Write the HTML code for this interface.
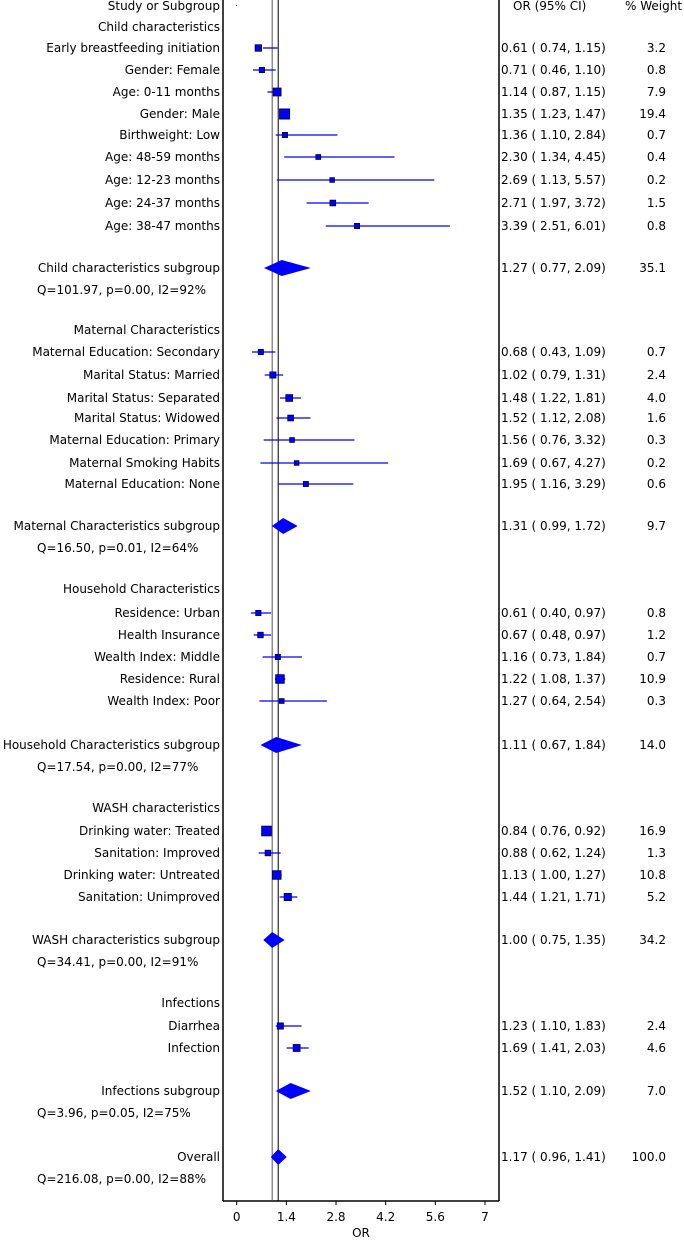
<!DOCTYPE html>
<html><head><meta charset="utf-8"><style>
html,body{margin:0;padding:0;background:#fff;}
svg{display:block;font-family:"DejaVu Sans","Liberation Sans",sans-serif;}
text{font-size:12px;fill:#000;}
</style></head><body>
<svg id="c" width="684" height="1240" viewBox="0 0 684 1240"></svg>
<script>
const labels=["Study or Subgroup","Child characteristics","Early breastfeeding initiation","Gender: Female","Age: 0-11 months","Gender:  Male","Birthweight: Low","Age: 48-59 months","Age: 12-23 months","Age: 24-37 months","Age: 38-47 months","Child characteristics subgroup","Q=101.97, p=0.00, I2=92%","Maternal Characteristics","Maternal Education: Secondary","Marital Status: Married","Marital Status: Separated","Marital Status: Widowed","Maternal Education: Primary","Maternal Smoking Habits","Maternal Education: None","Maternal Characteristics subgroup","Q=16.50, p=0.01, I2=64%","Household Characteristics","Residence: Urban","Health Insurance","Wealth Index: Middle","Residence: Rural","Wealth Index: Poor","Household Characteristics subgroup","Q=17.54, p=0.00, I2=77%","WASH characteristics","Drinking water: Treated","Sanitation: Improved","Drinking water: Untreated","Sanitation: Unimproved","WASH characteristics subgroup","Q=34.41, p=0.00, I2=91%","Infections","Diarrhea","Infection","Infections subgroup","Q=3.96, p=0.05, I2=75%","Overall","Q=216.08, p=0.00, I2=88%"];
const kinds=["head","cat","s","s","s","s","s","s","s","s","s","sub","q","cat","s","s","s","s","s","s","s","sub","q","cat","s","s","s","s","s","sub","q","cat","s","s","s","s","sub","q","cat","s","s","sub","q","sub","q"];
const est=[null,null,0.61,0.71,1.14,1.35,1.36,2.30,2.69,2.71,3.39,1.27,null,null,0.68,1.02,1.48,1.52,1.56,1.69,1.95,1.31,null,null,0.61,0.67,1.16,1.22,1.27,1.11,null,null,0.84,0.88,1.13,1.44,1.00,null,null,1.23,1.69,1.52,null,1.17,null];
const lo=[null,null,0.74,0.46,0.87,1.23,1.10,1.34,1.13,1.97,2.51,0.77,null,null,0.43,0.79,1.22,1.12,0.76,0.67,1.16,0.99,null,null,0.40,0.48,0.73,1.08,0.64,0.67,null,null,0.76,0.62,1.00,1.21,0.75,null,null,1.10,1.41,1.10,null,0.96,null];
const hi=[null,null,1.15,1.10,1.15,1.47,2.84,4.45,5.57,3.72,6.01,2.09,null,null,1.09,1.31,1.81,2.08,3.32,4.27,3.29,1.72,null,null,0.97,0.97,1.84,1.37,2.54,1.84,null,null,0.92,1.24,1.27,1.71,1.35,null,null,1.83,2.03,2.09,null,1.41,null];
const weights=[null,null,3.2,0.8,7.9,19.4,0.7,0.4,0.2,1.5,0.8,35.1,null,null,0.7,2.4,4.0,1.6,0.3,0.2,0.6,9.7,null,null,0.8,1.2,0.7,10.9,0.3,14.0,null,null,16.9,1.3,10.8,5.2,34.2,null,null,2.4,4.6,7.0,null,100.0,null];
const rowY=[6,27,48,70,92,114,135,157,180,203,226,268,290,330,352,375,398,418,440,463,484,526,548,589,613,635,657,679,701,745,767,808,831,853,875,897,940,962,1003,1026,1048,1091,1113,1157,1179];
const ticks=[0,1.4,2.8,4.2,5.6,7];
const nullOR=1, overallOR=1.17;

const svg=document.getElementById('c');const NS='http://www.w3.org/2000/svg';
const X0=236.7,X1=485,xs=v=>X0+(v)*(X1-X0)/7;
function mk(t,a,p){const e=document.createElementNS(NS,t);for(const k in a)e.setAttribute(k,a[k]);(p||svg).appendChild(e);return e;}
const f=v=>v.toFixed(2);
let e;
e=mk('line',{x1:223,y1:0,x2:223,y2:1201,stroke:'#000','stroke-width':1.5});

e=mk('line',{x1:499,y1:0,x2:499,y2:1201,stroke:'#000','stroke-width':1.5});

e=mk('line',{x1:223,y1:1201,x2:499,y2:1201,stroke:'#000','stroke-width':1.5});

e=mk('line',{x1:xs(nullOR),y1:0,x2:xs(nullOR),y2:1201,stroke:'#555','stroke-width':1});

e=mk('line',{x1:xs(overallOR),y1:0,x2:xs(overallOR),y2:1201,stroke:'#000','stroke-width':1});

e=mk('rect',{x:236,y:5,width:1,height:1,fill:'#666'});

ticks.forEach(t=>{
 e=mk('line',{x1:xs(t),y1:1201,x2:xs(t),y2:1205,stroke:'#000'});
 
 e=mk('text',{x:xs(t),y:1221,'text-anchor':'middle'});e.textContent=String(t);
 
});
e=mk('text',{x:361,y:1237,'text-anchor':'middle'});e.textContent='OR';

e=mk('text',{x:513,y:10});e.textContent='OR (95% CI)';

e=mk('text',{x:625,y:10});e.textContent='% Weight';


labels.forEach((lab,i)=>{
 const y=rowY[i],k=kinds[i];
 let t;
 if(k==='q')t=mk('text',{x:37,y:y+4});
 else t=mk('text',{x:220,y:y+4,'text-anchor':'end'});
 t.textContent=lab;
 
 
 if(est[i]==null)return;
 if(k==='s'){
  const ln=mk('line',{x1:xs(lo[i]),y1:y,x2:xs(hi[i]),y2:y,stroke:'#0000ff','stroke-width':1.3});
  
  
  const s=4+Math.sqrt(weights[i])*1.4;
  const r=mk('rect',{x:xs(est[i])-s/2,y:y-s/2,width:s,height:s,fill:'#0000ff',stroke:'#000033','stroke-width':0.8});
  
  
 } else {
  const h=8;
  const d=mk('polygon',{points:`${xs(lo[i])},${y} ${xs(est[i])},${y-h} ${xs(hi[i])},${y} ${xs(est[i])},${y+h}`,fill:'#0000ff'});
  
  
 }
 const o=mk('text',{x:501,y:y+4,'xml:space':'preserve'});
 o.textContent=`${f(est[i])}  ( ${f(lo[i])},  ${f(hi[i])})`;
 
 
 const w=mk('text',{x:666,y:y+4,'text-anchor':'end'});
 w.textContent=weights[i].toFixed(1);
 
 
});
</script>
</body></html>
